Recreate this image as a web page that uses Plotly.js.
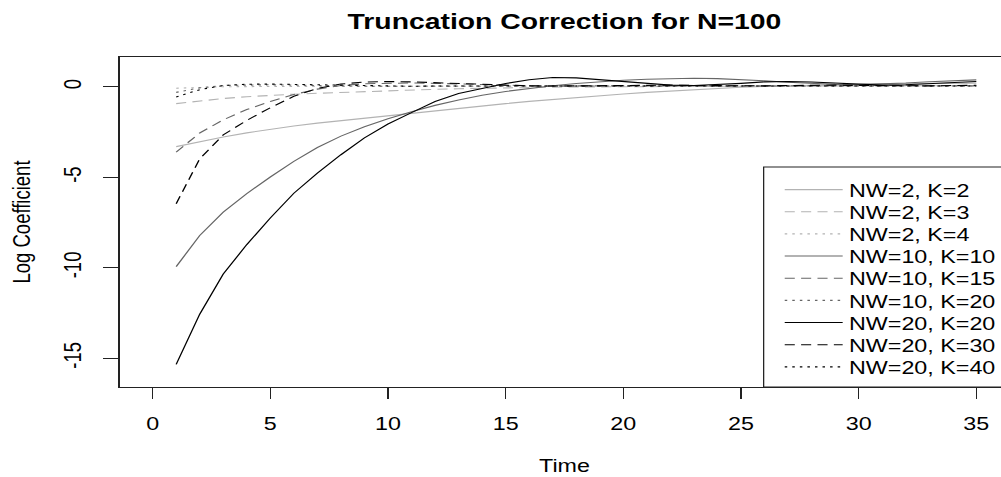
<!DOCTYPE html>
<html><head><meta charset="utf-8">
<script src="https://cdn.plot.ly/plotly-3.0.1.min.js"></script>
<style>
html,body{margin:0;padding:0;overflow:hidden;background:#fff;width:1001px;height:477px;}
#wrap{width:820px;height:477px;transform:scaleX(1.26);transform-origin:0 0;}
</style></head><body><div id="wrap"><div id="chart"></div></div>
<script>
const time = [1,2,3,4,5,6,7,8,9,10,11,12,13,14,15,16,17,18,19,20,21,22,23,24,25,26,27,28,29,30,31,32,33,34,35];
const seriesNames = ["NW=2, K=2","NW=2, K=3","NW=2, K=4","NW=10, K=10","NW=10, K=15","NW=10, K=20","NW=20, K=20","NW=20, K=30","NW=20, K=40"];
const nw2k2 = [-3.30,-3.02,-2.77,-2.54,-2.34,-2.16,-2.00,-1.86,-1.72,-1.58,-1.44,-1.30,-1.17,-1.04,-0.92,-0.80,-0.69,-0.58,-0.48,-0.39,-0.30,-0.22,-0.15,-0.08,-0.02,0.03,0.07,0.10,0.13,0.15,0.17,0.18,0.19,0.20,0.21];
const nw2k3 = [-0.92,-0.76,-0.64,-0.54,-0.46,-0.40,-0.35,-0.30,-0.25,-0.21,-0.17,-0.13,-0.10,-0.07,-0.05,-0.03,-0.01,0.00,0.01,0.02,0.03,0.04,0.04,0.05,0.05,0.05,0.06,0.06,0.06,0.06,0.07,0.07,0.07,0.07,0.07];
const nw2k4 = [-0.07,-0.02,0.01,0.02,0.03,0.03,0.03,0.03,0.04,0.04,0.04,0.04,0.04,0.04,0.04,0.05,0.05,0.05,0.05,0.05,0.05,0.05,0.05,0.05,0.05,0.05,0.05,0.05,0.05,0.05,0.05,0.05,0.05,0.05,0.05];
const nw10k10 = [-9.94,-8.22,-6.93,-5.90,-4.98,-4.12,-3.35,-2.72,-2.20,-1.76,-1.37,-1.02,-0.72,-0.46,-0.25,-0.08,0.07,0.19,0.29,0.37,0.43,0.47,0.48,0.46,0.41,0.34,0.26,0.19,0.14,0.13,0.16,0.22,0.29,0.35,0.39];
const nw10k15 = [-3.60,-2.55,-1.82,-1.25,-0.80,-0.42,-0.12,0.08,0.18,0.22,0.22,0.20,0.16,0.12,0.09,0.07,0.06,0.06,0.07,0.09,0.10,0.10,0.09,0.07,0.06,0.05,0.06,0.08,0.09,0.10,0.10,0.09,0.07,0.06,0.06];
const nw10k20 = [-0.30,-0.05,0.08,0.12,0.12,0.10,0.07,0.05,0.04,0.04,0.05,0.06,0.06,0.06,0.05,0.05,0.05,0.06,0.06,0.06,0.06,0.05,0.05,0.05,0.06,0.06,0.06,0.06,0.05,0.05,0.05,0.06,0.06,0.06,0.06];
const nw20k20 = [-15.35,-12.57,-10.35,-8.72,-7.25,-5.88,-4.77,-3.75,-2.82,-2.05,-1.42,-0.80,-0.36,-0.07,0.19,0.40,0.52,0.50,0.40,0.27,0.17,0.10,0.08,0.12,0.20,0.28,0.30,0.27,0.20,0.13,0.10,0.12,0.18,0.25,0.30];
const nw20k30 = [-6.46,-3.98,-2.65,-1.85,-1.15,-0.52,-0.08,0.16,0.27,0.30,0.28,0.23,0.17,0.12,0.08,0.06,0.05,0.06,0.08,0.10,0.11,0.10,0.08,0.06,0.05,0.06,0.08,0.10,0.10,0.08,0.06,0.05,0.06,0.08,0.09];
const nw20k40 = [-0.55,-0.15,0.08,0.15,0.16,0.14,0.10,0.07,0.05,0.04,0.04,0.05,0.06,0.07,0.07,0.06,0.05,0.05,0.06,0.07,0.07,0.06,0.05,0.05,0.06,0.07,0.07,0.06,0.05,0.05,0.06,0.07,0.07,0.06,0.05];
const xTicks = [0,5,10,15,20,25,30,35];
const yTicks = [-15,-10,-5,0];
const yTickText = ["-15","-10","-5","0"];

const series = [nw2k2,nw2k3,nw2k4,nw10k10,nw10k15,nw10k20,nw20k20,nw20k30,nw20k40];
const colors = ["#b3b3b3","#b3b3b3","#b3b3b3","#666666","#666666","#666666","#000000","#000000","#000000"];
const dashes = ["solid","8px,5px","2px,4px","solid","8px,5px","2px,4px","solid","8px,5px","2px,4px"];
const FONT = "Liberation Sans, Arial, Helvetica, sans-serif";

const traces = series.map((ys,i)=>({
  x: time, y: ys, type:"scatter", mode:"lines", name: seriesNames[i],
  line:{color:colors[i], width:1.1, dash:dashes[i]},
  legend: i===0 ? "legend" : "legend"+(i+1),
  hoverinfo:"skip"
}));

const layout = {
  width: 820, height: 477,
  margin:{l:95, r:18.7, t:56.7, b:89.7, autoexpand:false},
  paper_bgcolor:"#fff", plot_bgcolor:"#fff",
  font:{family:FONT, color:"#000", size:18.5},
  title:{text:"Truncation Correction for N=100", font:{family:FONT, size:22.5, weight:"bold", color:"#000"},
         xref:"paper", x:0.5, xanchor:"center", yref:"container", y:1-13.5/477, yanchor:"top"},
  xaxis:{range:[-1.4,36.4], tickmode:"array", tickvals:xTicks, ticks:"outside", ticklen:11, tickwidth:1, tickcolor:"#222",
         showline:true, linecolor:"#222", linewidth:1, mirror:true, showgrid:false, zeroline:false, automargin:false,
         tickfont:{family:FONT, size:18.5, color:"#000"}, ticklabelstandoff:9,
         title:{text:"Time", font:{family:FONT, size:18.5, color:"#000"}, standoff:25}},
  yaxis:{range:[-16.6,1.657], tickmode:"array", tickvals:yTicks, ticktext:yTickText, tickangle:-90, ticks:"outside", ticklen:12, tickwidth:1, tickcolor:"#222",
         showline:true, linecolor:"#222", linewidth:1, mirror:true, showgrid:false, zeroline:false, automargin:false,
         tickfont:{family:FONT, size:18.5, color:"#000"}, ticklabelstandoff:10,
         title:{text:"Log Coefficient", font:{family:FONT, size:18.5, color:"#000"}, standoff:18}},
  shapes:[{type:"rect", xref:"paper", yref:"paper", x0:0.7239, x1:1, y0:0, y1:0.6664, line:{color:"#222", width:1}, fillcolor:"rgba(0,0,0,0)", layer:"below"}],
  showlegend:true
};
for(let i=0;i<9;i++){
  const key = i===0 ? "legend" : "legend"+(i+1);
  layout[key] = {x:0.7405, xanchor:"left", xref:"paper", yref:"paper", y:(387.3-(190+22.2*i))/330.6, yanchor:"middle",
    bgcolor:"rgba(0,0,0,0)", borderwidth:0, itemwidth:46, font:{family:FONT, size:18.5, color:"#000"}};
}
Plotly.newPlot("chart", traces, layout, {staticPlot:true, displayModeBar:false});
</script></body></html>
